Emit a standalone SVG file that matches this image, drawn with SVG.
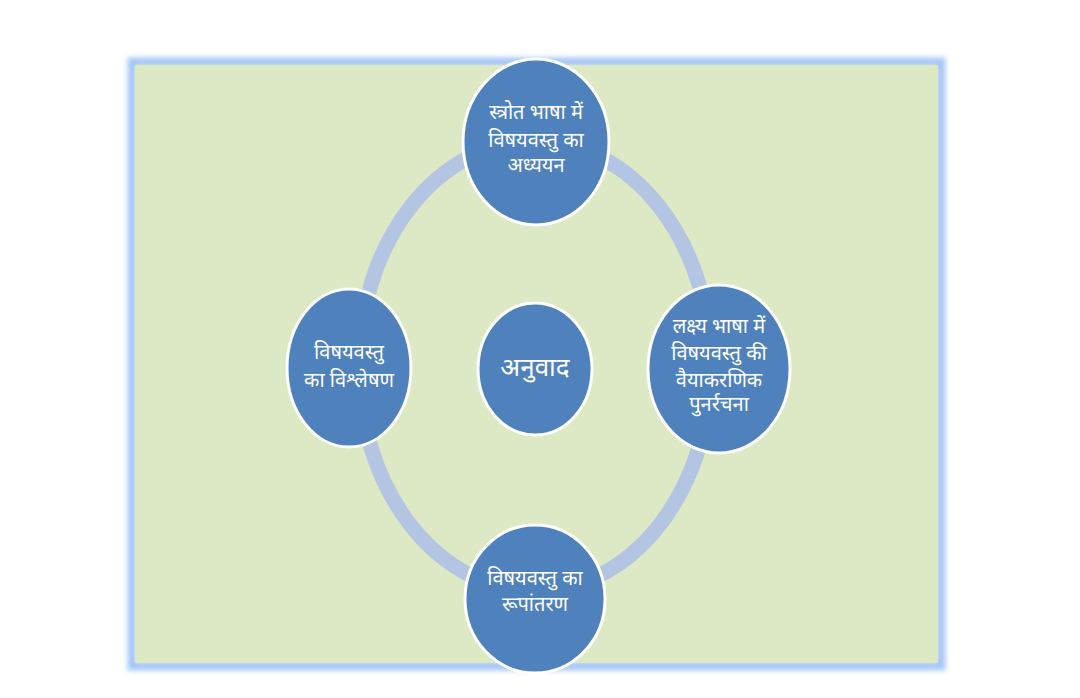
<svg xmlns="http://www.w3.org/2000/svg" width="1080" height="698" viewBox="0 0 1080 698">
<defs>
<filter id="glow" x="-5%" y="-5%" width="110%" height="110%"><feGaussianBlur stdDeviation="2.5"/></filter>
<style>
.node{fill:#4f81bd;stroke:#ffffff;stroke-width:3}
.t{fill:#ffffff;font-family:"Noto Sans Devanagari","Noto Sans","Lohit Devanagari",sans-serif;font-size:20px;text-anchor:middle}
.big{font-size:26px}
</style>
</defs>
<rect width="1080" height="698" fill="#ffffff"/>
<g id="frame">
<rect x="132" y="62" width="809" height="604" fill="none" stroke="#a6c8f7" stroke-width="9" filter="url(#glow)"/>
<rect x="135" y="65" width="803" height="598" fill="#dde8c4"/>
</g>
<g id="connectors">
<ellipse cx="535" cy="366" rx="176" ry="225" fill="none" stroke="#b3c5e2" stroke-width="15"/>
</g>
<g id="node-top">
<ellipse class="node" cx="536" cy="142" rx="73" ry="83"/>
<text class="t" x="536" y="119">स्त्रोत भाषा में</text>
<text class="t" x="536" y="147">विषयवस्तु का</text>
<text class="t" x="536" y="172">अध्ययन</text>
</g>
<g id="node-right">
<ellipse class="node" cx="719" cy="369" rx="71" ry="84"/>
<text class="t" x="719" y="333">लक्ष्य भाषा में</text>
<text class="t" x="719" y="360">विषयवस्तु की</text>
<text class="t" x="719" y="387">वैयाकरणिक</text>
<text class="t" x="719" y="411">पुनर्रचना</text>
</g>
<g id="node-left">
<ellipse class="node" cx="349" cy="368" rx="62" ry="79"/>
<text class="t" x="349" y="359">विषयवस्तु</text>
<text class="t" x="349" y="387">का विश्लेषण</text>
</g>
<g id="node-center">
<ellipse class="node" cx="535" cy="369" rx="57" ry="66"/>
<text class="t big" x="535" y="376">अनुवाद</text>
</g>
<g id="node-bottom">
<ellipse class="node" cx="535" cy="599" rx="70" ry="74"/>
<text class="t" x="535" y="585">विषयवस्तु का</text>
<text class="t" x="535" y="611">रूपांतरण</text>
</g>
</svg>
